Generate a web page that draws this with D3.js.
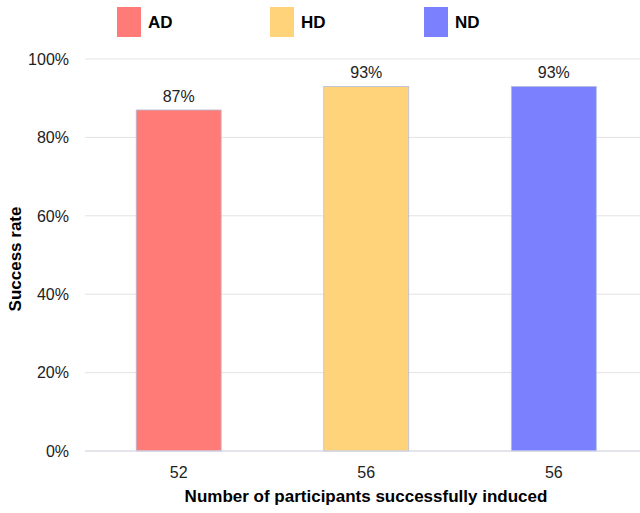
<!DOCTYPE html>
<html>
<head>
<meta charset="utf-8">
<script src="https://cdn.jsdelivr.net/npm/d3@7"></script>
<style>
  body { margin: 0; background: #fff; }
  text { font-family: Arial, "Liberation Sans", sans-serif; }
</style>
</head>
<body>
<div id="chart"></div>
<script>
const groups = ["AD", "HD", "ND"];
const participants = ["52", "56", "56"];
const successRate = [87, 93, 93];
const colors = ["#ff7b78", "#ffd37a", "#7b80ff"];
const yTicks = [0, 20, 40, 60, 80, 100];

const width = 640, height = 513;
const svg = d3.select("#chart").append("svg")
    .attr("width", width)
    .attr("height", height);

// scales
const x = d3.scaleBand()
    .domain(participants.map((d, i) => i))
    .range([85, 647.5])
    .paddingInner(0.547)
    .paddingOuter(0.273);

const y = d3.scaleLinear()
    .domain([0, 100])
    .range([451, 59]);

// gridlines
svg.append("g")
    .selectAll("line")
    .data(yTicks)
    .join("line")
    .attr("x1", 85)
    .attr("x2", 640)
    .attr("y1", d => y(d))
    .attr("y2", d => y(d))
    .attr("stroke", "#e3e3e3")
    .attr("stroke-width", 1);

// y axis labels
svg.append("g")
    .selectAll("text")
    .data(yTicks)
    .join("text")
    .attr("x", 69)
    .attr("y", d => y(d))
    .attr("dy", "0.36em")
    .attr("text-anchor", "end")
    .style("font-size", "16px")
    .attr("fill", "#222")
    .text(d => d + "%");

// bars
svg.append("g")
    .selectAll("rect")
    .data(successRate)
    .join("rect")
    .attr("x", (d, i) => x(i))
    .attr("y", d => y(d))
    .attr("width", x.bandwidth())
    .attr("height", d => y(0) - y(d))
    .attr("fill", (d, i) => colors[i])
    .attr("stroke", "#b4bedc")
    .attr("stroke-width", 0.8);

// value labels
svg.append("g")
    .selectAll("text")
    .data(successRate)
    .join("text")
    .attr("x", (d, i) => x(i) + x.bandwidth() / 2)
    .attr("y", d => y(d) - 8)
    .attr("text-anchor", "middle")
    .style("font-size", "16px")
    .attr("fill", "#222")
    .text(d => d + "%");

// baseline
svg.append("line")
    .attr("x1", 85).attr("x2", 640)
    .attr("y1", y(0)).attr("y2", y(0))
    .attr("stroke", "#d6d9e6");

// x labels
svg.append("g")
    .selectAll("text")
    .data(participants)
    .join("text")
    .attr("x", (d, i) => x(i) + x.bandwidth() / 2)
    .attr("y", 478)
    .attr("text-anchor", "middle")
    .style("font-size", "16px")
    .attr("fill", "#222")
    .text(d => d);

// axis titles
svg.append("text")
    .attr("x", 366)
    .attr("y", 502)
    .attr("text-anchor", "middle")
    .style("font-size", "17px")
    .style("font-weight", "bold")
    .text("Number of participants successfully induced");

svg.append("text")
    .attr("transform", "translate(21,259) rotate(-90)")
    .attr("text-anchor", "middle")
    .style("font-size", "17px")
    .style("font-weight", "bold")
    .text("Success rate");

// legend
const legendX = [117, 270, 424];
const legend = svg.append("g")
    .selectAll("g")
    .data(groups)
    .join("g")
    .attr("transform", (d, i) => `translate(${legendX[i]},7)`);

legend.append("rect")
    .attr("width", 24)
    .attr("height", 30)
    .attr("fill", (d, i) => colors[i]);

legend.append("text")
    .attr("x", 31)
    .attr("y", 15)
    .attr("dy", "0.36em")
    .style("font-size", "17px")
    .style("font-weight", "bold")
    .text(d => d);
</script>
</body>
</html>
